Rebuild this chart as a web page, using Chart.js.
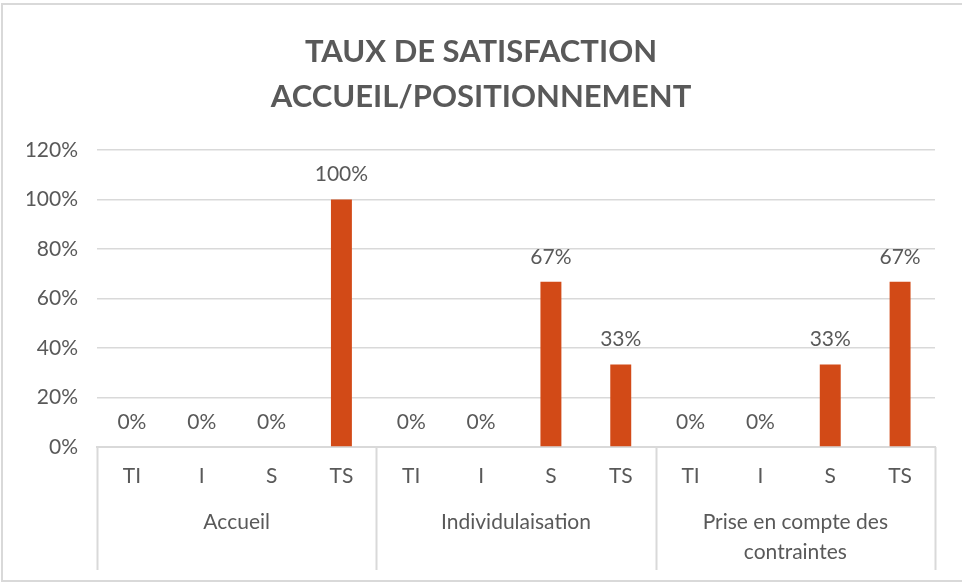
<!DOCTYPE html>
<html>
<head>
<meta charset="utf-8">
<script src="https://cdn.jsdelivr.net/npm/chart.js@4.4.1/dist/chart.umd.min.js"></script>
<style>
  body { margin: 0; background: #fff; }
  #wrap { position: relative; width: 962px; height: 583px; }
</style>
</head>
<body>
<div id="wrap"><canvas id="grafica" width="962" height="583"></canvas></div>
<script>
// niveaux de satisfaction (1er niveau de l'axe)
var niveaux = ["TI", "I", "S", "TS", "TI", "I", "S", "TS", "TI", "I", "S", "TS"];
// groupes (2e niveau de l'axe)
var groupes = ["Accueil", "Individulaisation", ["Prise en compte des", "contraintes"]];
// taux en %
var taux = [0, 0, 0, 100, 0, 0, 66.7, 33.3, 0, 0, 33.3, 66.7];
var ticksY = [0, 20, 40, 60, 80, 100, 120];

var gris = "#595959";
var grille = "#d9d9d9";
var police = "Lato, 'Open Sans', sans-serif";
var taille = 21;

// cadre du graphique + lignes verticales de l'axe a deux niveaux
var cadre = {
    id: "cadre",
    afterDraw: function (chart) {
        var ctx = chart.ctx;
        var x = chart.scales.x;
        var x2 = chart.scales.x2;
        var area = chart.chartArea;
        ctx.save();
        ctx.strokeStyle = grille;
        ctx.lineWidth = 2;
        ctx.strokeRect(2, 4, 970, 577);
        var pas = x.getPixelForValue(1) - x.getPixelForValue(0);
        [0, 4, 8, 12].forEach(function (i) {
            var px = Math.round(x.getPixelForValue(i) - pas / 2) + 0.5;
            ctx.beginPath();
            ctx.moveTo(px, area.bottom);
            ctx.lineTo(px, x2.bottom);
            ctx.stroke();
        });
        ctx.restore();
    }
};

// etiquettes de valeurs au-dessus des barres
var etiquettes = {
    id: "etiquettes",
    afterDatasetsDraw: function (chart) {
        var ctx = chart.ctx;
        var meta = chart.getDatasetMeta(0);
        ctx.save();
        ctx.font = taille + "px " + police;
        ctx.fillStyle = gris;
        ctx.textAlign = "center";
        ctx.textBaseline = "middle";
        meta.data.forEach(function (bar, i) {
            ctx.fillText(Math.round(taux[i]) + "%", bar.x, bar.y - 25);
        });
        ctx.restore();
    }
};

var ctx = document.getElementById("grafica").getContext("2d");
var graf = new Chart(ctx, {
    type: "bar",
    data: {
        labels: niveaux,
        datasets: [{
            data: taux,
            backgroundColor: "#d24a17",
            barPercentage: 0.3,
            categoryPercentage: 1
        }]
    },
    options: {
        responsive: false,
        animation: false,
        layout: { padding: { left: 27, right: 27, top: 0, bottom: 13 } },
        plugins: {
            legend: { display: false },
            tooltip: { enabled: false },
            title: {
                display: true,
                text: ["TAUX DE SATISFACTION", "ACCUEIL/POSITIONNEMENT"],
                color: gris,
                font: { family: police, size: 31, weight: "bold", lineHeight: 1.45 },
                padding: { top: 30, bottom: 30 }
            }
        },
        scales: {
            y: {
                min: 0,
                max: 120,
                afterBuildTicks: function (axis) {
                    axis.ticks = ticksY.map(function (v) { return { value: v }; });
                },
                afterFit: function (axis) { axis.width = 70; },
                ticks: {
                    color: gris,
                    font: { family: police, size: taille },
                    padding: 19,
                    callback: function (v) { return v + "%"; }
                },
                grid: { color: grille, lineWidth: 1.5, drawTicks: false },
                border: { display: false }
            },
            x: {
                afterFit: function (axis) { axis.height = 50; },
                ticks: {
                    color: gris,
                    font: { family: police, size: taille },
                    padding: 17,
                    maxRotation: 0,
                    autoSkip: false
                },
                grid: { display: false, drawTicks: false },
                border: { display: true, color: grille, width: 2 }
            },
            x2: {
                type: "category",
                position: "bottom",
                labels: groupes,
                offset: true,
                afterFit: function (axis) { axis.height = 73; },
                ticks: {
                    color: gris,
                    font: { family: police, size: taille, lineHeight: 1.43 },
                    padding: 10,
                    maxRotation: 0,
                    autoSkip: false
                },
                grid: { display: false, drawTicks: false },
                border: { display: false }
            }
        }
    },
    plugins: [cadre, etiquettes]
});
</script>
</body>
</html>
